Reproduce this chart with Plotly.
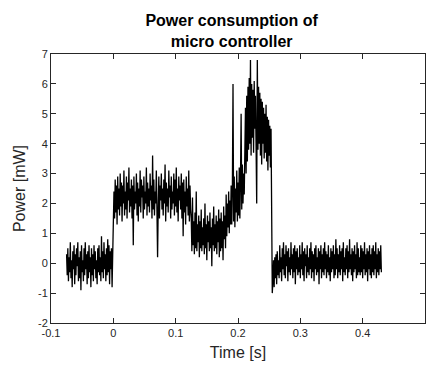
import numpy as np
import plotly.graph_objects as go

# Segment boundaries in seconds (start, end)
segment_times = [(-0.075, 0.0), (0.0, 0.125), (0.125, 0.19), (0.19, 0.255), (0.255, 0.43)]

# Power readings [mW]
power_idle_before = [
    0.3, -0.4, 0.5, -0.6, 0.2, -0.3, 0.7, -0.5, 0.1, -0.8,
    0.4, -0.2, 0.6, -0.7, 0.3, -0.4, 0.5, -0.1, 0.7, -0.6,
    0.2, -0.5, 0.4, -0.9, 0.6, -0.3, 0.1, -0.6, 0.5, -0.4,
    0.7, -0.2, 0.3, -0.7, 0.4, -0.5, 0.6, -0.3, 0.2, -0.8,
    0.5, -0.4, 0.3, -0.6, 0.6, -0.2, 0.4, -0.5, 0.1, -0.7,
    0.5, -0.3, 0.6, -0.4, 0.2, -0.6, 0.9, -0.3, 0.4, -0.5,
    0.7, -0.2, 0.3, -0.6, 0.5, -0.4, 0.8, -0.3, 0.6, -0.7,
    0.4, -0.2, 0.5, -0.8, 0.3,
]
power_active = [
    1.2, 2.4, 1.5, 2.8, 1.7, 2.6, 1.3, 2.9, 1.8, 2.5,
    1.6, 3.0, 1.9, 2.7, 1.4, 2.6, 2.0, 3.1, 1.6, 2.4,
    1.8, 2.9, 1.5, 2.7, 2.1, 3.2, 1.7, 2.5, 1.9, 2.8,
    1.5, 2.6, 0.6, 2.9, 1.8, 2.4, 2.0, 3.0, 1.6, 2.7,
    1.4, 2.5, 1.9, 3.1, 1.7, 2.8, 2.2, 2.6, 1.5, 2.9,
    1.8, 2.4, 2.0, 3.2, 1.6, 2.7, 1.9, 2.5, 1.7, 3.0,
    2.1, 2.6, 1.5, 3.6, 1.8, 2.8, 1.6, 2.4, 2.0, 3.1,
    1.7, 0.2, 1.9, 2.9, 1.5, 2.6, 2.1, 3.0, 1.8, 2.5,
    1.6, 2.8, 2.0, 3.3, 1.4, 2.7, 1.9, 2.5, 1.7, 3.1,
    2.2, 2.6, 1.5, 2.9, 1.8, 2.4, 2.0, 3.0, 1.6, 2.8,
    1.9, 3.2, 1.7, 2.5, 1.4, 2.9, 2.1, 2.6, 1.8, 3.0,
    1.5, 2.7, 0.9, 2.8, 1.7, 2.4, 1.3, 2.9, 1.9, 2.5,
    1.6, 3.1, 1.4, 2.6, 1.8,
]
power_low = [
    1.5, 0.4, 2.2, 0.6, 1.4, 0.3, 1.7, 0.5, 2.4, 0.4,
    1.3, 0.7, 1.6, 0.2, 1.4, 0.5, 1.8, 0.4, 1.2, 0.6,
    1.5, 0.3, 2.0, 0.5, 1.3, 0.1, 1.6, 0.7, 1.4, 0.4,
    1.7, 0.5, 1.2, -0.1, 1.5, 0.6, 1.9, 0.4, 1.3, 0.5,
    1.6, 0.3, 1.4, 0.7, 1.8, 0.2, 1.5, 0.4, 1.7, 0.5,
    1.4, 0.1, 1.9, 0.8, 1.6, 0.5, 2.3, 0.9, 2.0, 1.2,
    2.4, 1.0, 2.1, 1.3, 2.6,
]
power_burst = [
    1.3, 2.6, 6.0, 1.4, 2.9, 1.2, 2.5, 1.7, 3.1, 1.4,
    2.7, 1.6, 3.2, 1.5, 2.8, 5.0, 1.8, 3.3, 2.0, 3.0,
    2.3, 3.5, 5.2, 3.0, 5.6, 3.4, 5.9, 3.8, 6.2, 4.0,
    6.8, 3.6, 6.0, 4.2, 5.8, 3.7, 6.1, 4.5, 5.6, 3.9,
    2.0, 6.8, 3.8, 5.9, 4.0, 5.7, 3.6, 5.5, 3.3, 5.4,
    4.0, 5.2, 3.5, 5.0, 3.7, 5.3, 3.4, 4.9, 3.1, 4.8,
    3.6, 4.6, 3.2, 4.5, 2.6,
]
power_idle_after = [
    -1.0, -0.6, 0.1, -0.8, 0.2, -0.5, 0.3, -0.7, 0.4, -0.4,
    0.1, -0.5, 0.6, -0.3, 0.2, -0.6, 0.5, -0.2, 0.7, -0.4,
    0.3, -0.5, 0.6, -0.1, 0.4, -0.6, 0.5, -0.3, 0.2, -0.4,
    0.7, -0.2, 0.3, -0.5, 0.5, -0.3, 0.6, -0.7, 0.4, -0.2,
    0.5, -0.4, 0.2, -0.3, 0.6, -0.5, 0.3, -0.2, 0.7, -0.4,
    0.4, -0.6, 0.5, -0.1, 0.3, -0.5, 0.6, -0.3, 0.2, -0.4,
    0.5, -0.2, 0.7, -0.5, 0.4, -0.3, 0.3, -0.6, 0.5, -0.2,
    0.6, -0.4, 0.2, -0.3, 0.5, -0.7, 0.4, -0.2, 0.6, -0.5,
    0.3, -0.3, 0.5, -0.4, 0.7, -0.2, 0.4, -0.5, 0.3, -0.3,
    0.6, -0.4, 0.2, -0.6, 0.5, -0.3, 0.4, -0.2, 0.6, -0.5,
    0.3, -0.4, 0.8, -0.2, 0.5, -0.5, 0.3, -0.3, 0.6, -0.4,
    0.4, -0.2, 0.5, -0.6, 0.7, -0.3, 0.2, -0.4, 0.5, -0.2,
    0.6, -0.5, 0.4, -0.3, 0.8, -0.2, 0.3, -0.4, 0.5, -0.6,
    0.4, -0.3, 0.6, -0.2, 0.3, -0.5, 0.7, -0.4, 0.5, -0.3,
    0.2, -0.4, 0.6, -0.3, 0.5, -0.5, 0.4, -0.2, 0.7, -0.4,
    0.3, -0.3, 0.5, -0.6, 0.4, -0.2, 0.6, -0.4, 0.3, -0.5,
    0.5, -0.3, 0.6, -0.4, 0.4, -0.2, 0.7, -0.5, 0.3, -0.3,
    0.5, -0.4, 0.4, -0.2, 0.6, -0.3,
]

x_tick_vals = [-0.1, 0, 0.1, 0.2, 0.3, 0.4, 0.5]
x_tick_text = ["-0.1", "0", "0.1", "0.2", "0.3", "0.4", "0.5"]
y_tick_vals = [-2, -1, 0, 1, 2, 3, 4, 5, 6, 7]
y_tick_text = ["-2", "-1", "0", "1", "2", "3", "4", "5", "6", "7"]

segments = [power_idle_before, power_active, power_low, power_burst, power_idle_after]
times, power = [], []
for i, ((t0, t1), vals) in enumerate(zip(segment_times, segments)):
    last = i == len(segments) - 1
    times.extend(np.linspace(t0, t1, len(vals), endpoint=last).tolist())
    power.extend(vals)

fig = go.Figure(go.Scatter(x=times, y=power, mode="lines",
                           line=dict(color="black", width=1.3)))

axis_common = dict(
    showgrid=False, zeroline=False, showline=True, linecolor="#262626", linewidth=1,
    mirror="ticks", ticks="inside", ticklen=5, tickwidth=1, tickcolor="#262626",
    tickfont=dict(family="Liberation Sans, Arial", size=11, color="#262626"),
)
fig.update_xaxes(range=[-0.1, 0.5], tickvals=x_tick_vals, ticktext=x_tick_text,
                 title=dict(text="Time [s]", standoff=8,
                            font=dict(family="Liberation Sans, Arial", size=16, color="#262626")),
                 **axis_common)
fig.update_yaxes(range=[-2, 7], tickvals=y_tick_vals, ticktext=y_tick_text,
                 title=dict(text="Power [mW]", standoff=8,
                            font=dict(family="Liberation Sans, Arial", size=16, color="#262626")),
                 **axis_common)

fig.update_layout(
    width=431, height=368,
    margin=dict(l=51, r=6, t=54, b=45),
    paper_bgcolor="white", plot_bgcolor="white",
    showlegend=False,
    title=dict(text="<b>Power consumption of<br>micro controller</b>",
               font=dict(family="Liberation Sans, Arial", size=16, color="black"),
               x=0.483, xref="paper", xanchor="center",
               y=1 - 26 / 368, yref="container", yanchor="middle"),
)

fig.write_html("out.html")
